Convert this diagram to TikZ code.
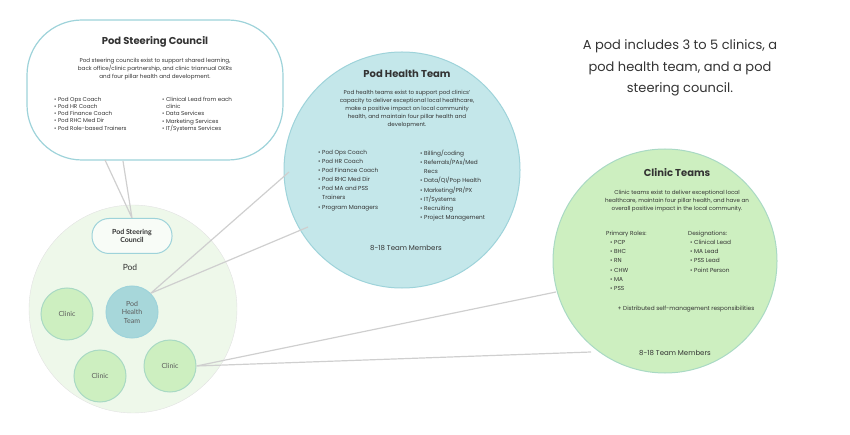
\documentclass[tikz,border=0pt]{standalone}
\usepackage{fontspec}
\setmainfont{Poppins}
\newfontfamily\lato{Lato}
\definecolor{tealline}{HTML}{9ED3DA}
\definecolor{tealfill}{HTML}{C4E7EA}
\definecolor{greenfill}{HTML}{CDEFC0}
\definecolor{greenline}{HTML}{A9D9C4}
\definecolor{podfill}{HTML}{EEF8EA}
\definecolor{conn}{HTML}{CFCFCF}
\definecolor{txt}{HTML}{333333}
\begin{document}
\begin{tikzpicture}[x=1pt,y=-1pt,
  conline/.style={draw=conn,line width=1.2pt},
  clinic/.style={circle,draw=greenline,fill=greenfill,line width=1pt,minimum size=52pt,inner sep=0pt,font=\lato\fontsize{7}{8}\selectfont,text=txt!80},
  body/.style={font=\fontsize{5.6}{8}\selectfont,text=txt,align=center},
  lst/.style={font=\fontsize{5.6}{7.2}\selectfont,text=txt,align=left,anchor=north west,inner sep=0pt},
  title/.style={font=\bfseries\fontsize{10}{12}\selectfont,text=txt}]
\useasboundingbox (0,0) rectangle (850,435);
% pod
\node[circle,draw=conn!60,fill=podfill,minimum size=208pt,inner sep=0pt] (pod) at (133,309) {};
% big circles
\node[circle,draw=tealline,fill=tealfill,line width=1pt,minimum size=236pt,inner sep=0pt] (pht) at (402,170) {};
\node[circle,draw=greenline,fill=greenfill,line width=1pt,minimum size=224pt,inner sep=0pt] (ct) at (665,261) {};
% steering council box
\node[draw=tealline,fill=white,line width=1.2pt,rounded corners=55pt,minimum width=256pt,minimum height=140pt,inner sep=0pt] (psc) at (155,90) {};
% small nodes
\node[draw=tealline,fill=white!60!podfill,line width=1pt,rounded corners=17pt,minimum width=80pt,minimum height=35pt,align=center,font=\lato\bfseries\fontsize{7}{8.5}\selectfont,text=txt] (spsc) at (132,236) {Pod Steering\\Council};
\node[font=\lato\fontsize{8.5}{10}\selectfont,text=txt] (podl) at (130,267) {Pod};
\node[clinic] (c1) at (67,314) {Clinic};
\node[clinic,draw=tealline,fill=tealfill!85!teal,align=center,font=\lato\fontsize{7}{8.5}\selectfont] (spht) at (132,312) {Pod\\Health\\Team};
\node[clinic] (c2) at (100,376) {Clinic};
\node[clinic] (c3) at (170,366) {Clinic};
% connectors
\coordinate (a1) at (105,160); \coordinate (a2) at (123,161);
\coordinate (b1) at (289,172); \coordinate (b2) at (308,227);
\coordinate (d1) at (556,292); \coordinate (d2) at (591,352);
\draw[conline] (a1) -- (spsc.north) (a2) -- (spsc.north);
\draw[conline] (spht.north east) -- (b1) (spht.north east) -- (b2);
\draw[conline] (c3.east) -- (d1) (c3.east) -- (d2);
% steering council text
\node[title] (psct) at (155,42) {Pod Steering Council};
\node[body] (pscb) at (155,69) {Pod steering councils exist to support shared learning,\\back office/clinic partnership, and clinic triannual OKRs\\and four pillar health and development.};
\node[lst] (pscl1) at (54,97) {• Pod Ops Coach\\• Pod HR Coach\\• Pod Finance Coach\\• Pod RHC Med Dir\\• Pod Role-based Trainers};
\node[lst] (pscl2) at (162,97) {• Clinical Lead from each\\\phantom{• }clinic\\• Data Services\\• Marketing Services\\• IT/Systems Services};
% pod health team text
\node[title] (phtt) at (407,74) {Pod Health Team};
\node[body] (phtb) at (407,109) {Pod health teams exist to support pod clinics'\\capacity to deliver exceptional local healthcare,\\make a positive impact on local community\\health, and maintain four pillar health and\\development.};
\node[lst,font=\fontsize{5.8}{9.1}\selectfont] (phtl1) at (318,150) {• Pod Ops Coach\\• Pod HR Coach\\• Pod Finance Coach\\• Pod RHC Med Dir\\• Pod MA and PSS\\\phantom{• }Trainers\\• Program Managers};
\node[lst,font=\fontsize{5.8}{9.1}\selectfont] (phtl2) at (420,150) {• Billing/coding\\• Referrals/PAs/Med\\\phantom{• }Recs\\• Data/QI/Pop Health\\• Marketing/PR/PX\\• IT/Systems\\• Recruiting\\• Project Management};
\node[font=\fontsize{7}{8}\selectfont,text=txt] (phtm) at (406,248) {8-18 Team Members};
% clinic teams text
\node[title] (ctt) at (677,173) {Clinic Teams};
\node[body] (ctb) at (677,201) {Clinic teams exist to deliver exceptional local\\healthcare, maintain four pillar health, and  have an\\overall positive impact in the local community.};
\node[lst,font=\fontsize{5.8}{9.1}\selectfont] (ctl1) at (606,231) {Primary Roles:\\\hspace{4pt}• PCP\\\hspace{4pt}• BHC\\\hspace{4pt}• RN\\\hspace{4pt}• CHW\\\hspace{4pt}• MA\\\hspace{4pt}• PSS};
\node[lst,font=\fontsize{5.8}{9.1}\selectfont] (ctl2) at (688,231) {Designations:\\\hspace{2pt}• Clinical Lead\\\hspace{2pt}• MA Lead\\\hspace{2pt}• PSS Lead\\\hspace{2pt}• Point Person};
\node[font=\fontsize{5.8}{7}\selectfont,text=txt] (ctd) at (686,309) {+ Distributed self-management responsibilities};
\node[font=\fontsize{7}{8}\selectfont,text=txt] (ctm) at (675,353) {8-18 Team Members};
% headline
\node[align=center,font=\fontsize{13}{21.5}\selectfont,text=txt] (head) at (680,68) {A pod includes 3 to 5 clinics, a\\pod health team, and a pod\\steering council.};
\end{tikzpicture}
\end{document}
